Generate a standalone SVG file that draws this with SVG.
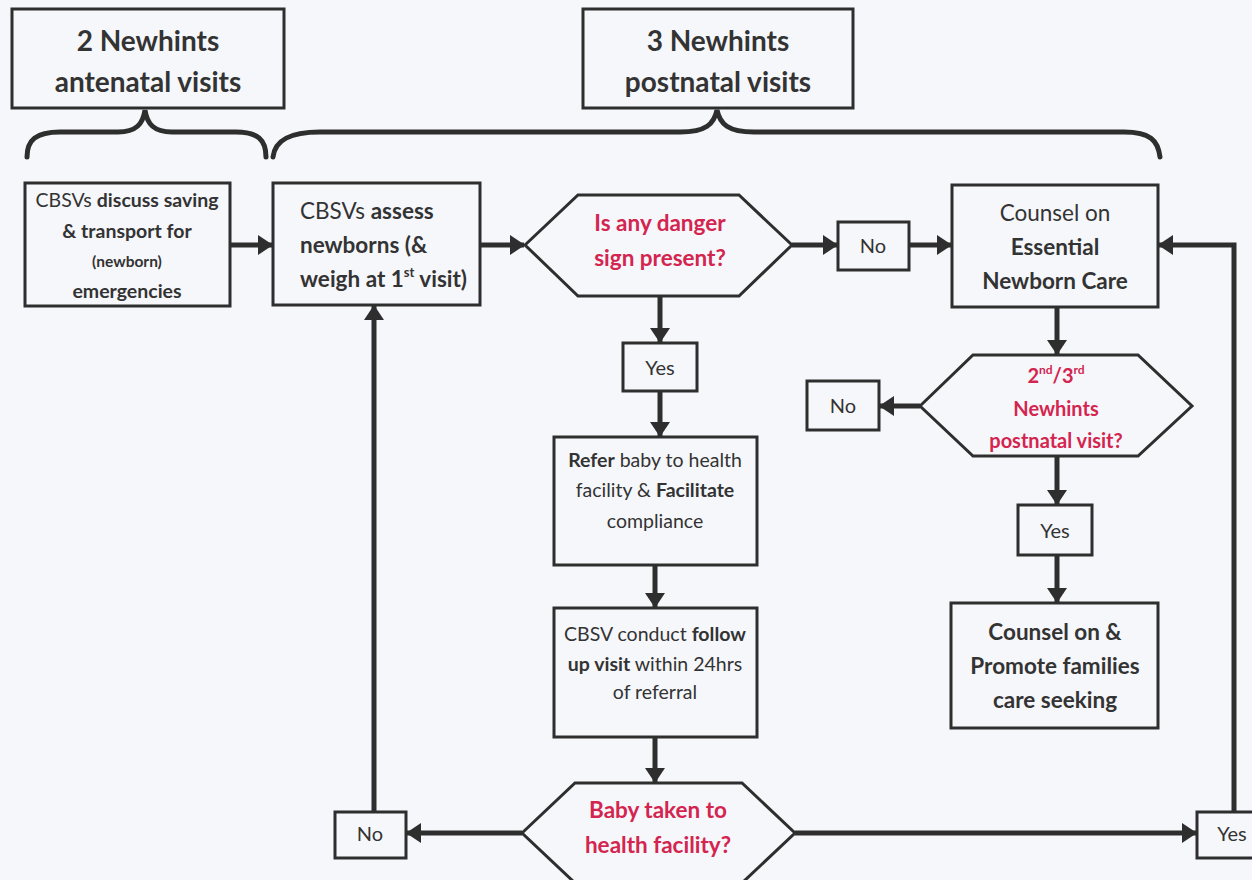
<svg xmlns="http://www.w3.org/2000/svg" width="1252" height="880" viewBox="0 0 1252 880">
<defs>
<style>
.bx{fill:none;stroke:#2e2e2e;stroke-width:3}
.cn{fill:none;stroke:#2e2e2e;stroke-width:5}
.br{fill:none;stroke:#2e2e2e;stroke-width:5;stroke-linecap:round}
text{font-family:Lato,"Open Sans","Liberation Sans",sans-serif;fill:#333;text-anchor:middle}
.b{font-weight:bold}
.r{fill:#d3254f;font-weight:bold}
.h{font-size:28px;font-weight:bold}
.m{font-size:22.5px}
.s{font-size:19.5px}
.l{font-size:20px}
</style>
<marker id="ah" viewBox="0 0 15 20" refX="14" refY="10" markerWidth="15" markerHeight="20" markerUnits="userSpaceOnUse" orient="auto">
<path d="M0,0 L15,10 L0,20 z" fill="#2e2e2e"/>
</marker>
</defs>
<rect width="1252" height="880" fill="#f6f7fb"/>

<g id="connectors">
<path class="br" d="M27,157 C27,140 36,132 60,132 L118,132 C136,132 143,124 145,110 C147,124 154,132 172,132 L236,132 C258,132 266,140 266,157"/>
<path class="br" d="M273,157 C275,140 290,132 320,132 L680,132 C706,132 714,124 717,110 C720,124 728,132 754,132 L1124,132 C1150,132 1158,140 1160,157"/>
<line class="cn" x1="230" y1="245" x2="272" y2="245" marker-end="url(#ah)"/>
<line class="cn" x1="480" y1="245" x2="524" y2="245" marker-end="url(#ah)"/>
<line class="cn" x1="792" y1="245" x2="837" y2="245" marker-end="url(#ah)"/>
<line class="cn" x1="909" y1="245" x2="951" y2="245" marker-end="url(#ah)"/>
<line class="cn" x1="660" y1="296" x2="660" y2="342" marker-end="url(#ah)"/>
<line class="cn" x1="660" y1="391" x2="660" y2="436" marker-end="url(#ah)"/>
<line class="cn" x1="655" y1="565" x2="655" y2="607" marker-end="url(#ah)"/>
<line class="cn" x1="655" y1="737" x2="655" y2="782" marker-end="url(#ah)"/>
<line class="cn" x1="522" y1="833" x2="407" y2="833" marker-end="url(#ah)"/>
<line class="cn" x1="374" y1="812" x2="374" y2="306" marker-end="url(#ah)"/>
<line class="cn" x1="795" y1="833" x2="1196" y2="833" marker-end="url(#ah)"/>
<polyline class="cn" points="1234,812 1234,245 1159,245" marker-end="url(#ah)"/>
<line class="cn" x1="1057" y1="307" x2="1057" y2="354" marker-end="url(#ah)"/>
<line class="cn" x1="920" y1="406" x2="880" y2="406" marker-end="url(#ah)"/>
<line class="cn" x1="1057" y1="456" x2="1057" y2="504" marker-end="url(#ah)"/>
<line class="cn" x1="1057" y1="555" x2="1057" y2="602" marker-end="url(#ah)"/>
</g>

<g id="antenatal">
<rect class="bx" x="12" y="9" width="272" height="99"/>
<text class="h" x="148" y="51">2 Newhints</text>
<text class="h" x="148" y="92">antenatal visits</text>
</g>

<g id="postnatal">
<rect class="bx" x="583" y="9" width="270" height="99"/>
<text class="h" x="718" y="51">3 Newhints</text>
<text class="h" x="718" y="92">postnatal visits</text>
</g>

<g id="discuss">
<rect class="bx" x="25" y="183" width="205" height="123"/>
<text class="s" x="127" y="207">CBSVs <tspan class="b">discuss saving</tspan></text>
<text class="s b" x="127" y="238">&amp; transport for</text>
<text class="b" style="font-size:15.5px" x="127" y="267">(newborn)</text>
<text class="s b" x="127" y="298">emergencies</text>
</g>

<g id="assess">
<rect class="bx" x="273" y="183" width="207" height="122"/>
<text class="m" x="300" y="219" style="text-anchor:start">CBSVs <tspan class="b">assess</tspan></text>
<text class="m b" x="300" y="253" style="text-anchor:start">newborns (&amp;</text>
<text class="m b" x="300" y="287" style="text-anchor:start">weigh at 1<tspan font-size="13" dy="-10">st</tspan><tspan dy="10"> visit)</tspan></text>
</g>

<g id="danger">
<polygon class="bx" points="525,245 578,195 739,195 792,245 739,296 578,296"/>
<text class="m r" x="660" y="231">Is any danger</text>
<text class="m r" x="660" y="266">sign present?</text>
</g>

<g id="no1">
<rect class="bx" x="838" y="222" width="71" height="48"/>
<text class="l" x="873" y="253">No</text>
</g>

<g id="counsel-enc">
<rect class="bx" x="952" y="185" width="206" height="122"/>
<text class="m" x="1055" y="221">Counsel on</text>
<text class="m b" x="1055" y="255">Essential</text>
<text class="m b" x="1055" y="289">Newborn Care</text>
</g>

<g id="yes1">
<rect class="bx" x="623" y="343" width="74" height="48"/>
<text class="l" x="660" y="375">Yes</text>
</g>

<g id="refer">
<rect class="bx" x="554" y="437" width="203" height="128"/>
<text class="s" x="655" y="467"><tspan class="b">Refer</tspan> baby to health</text>
<text class="s" x="655" y="497">facility &amp; <tspan class="b">Facilitate</tspan></text>
<text class="s" x="655" y="528">compliance</text>
</g>

<g id="followup">
<rect class="bx" x="554" y="608" width="203" height="129"/>
<text class="s" x="655" y="641">CBSV conduct <tspan class="b">follow</tspan></text>
<text class="s" x="655" y="671"><tspan class="b">up visit</tspan> within 24hrs</text>
<text class="s" x="655" y="699">of referral</text>
</g>

<g id="taken">
<polygon class="bx" points="522,833 575,783 742,783 795,833 742,883 575,883"/>
<text class="m r" x="658" y="818">Baby taken to</text>
<text class="m r" x="658" y="853">health facility?</text>
</g>

<g id="no3">
<rect class="bx" x="335" y="812" width="71" height="46"/>
<text class="l" x="370" y="841">No</text>
</g>

<g id="yes3">
<rect class="bx" x="1197" y="812" width="70" height="46"/>
<text class="l" x="1232" y="841">Yes</text>
</g>

<g id="visit23">
<polygon class="bx" points="920,406 973,355 1138,355 1192,406 1138,456 973,456"/>
<text class="l r" x="1056" y="383">2<tspan font-size="12" dy="-9">nd</tspan><tspan dy="9">/3</tspan><tspan font-size="12" dy="-9">rd</tspan></text>
<text class="l r" x="1056" y="416">Newhints</text>
<text class="l r" x="1056" y="448">postnatal visit?</text>
</g>

<g id="no2">
<rect class="bx" x="807" y="381" width="72" height="49"/>
<text class="l" x="843" y="413">No</text>
</g>

<g id="yes2">
<rect class="bx" x="1018" y="505" width="74" height="50"/>
<text class="l" x="1055" y="538">Yes</text>
</g>

<g id="promote">
<rect class="bx" x="951" y="603" width="207" height="125"/>
<text class="m b" x="1055" y="640">Counsel on &amp;</text>
<text class="m b" x="1055" y="674">Promote families</text>
<text class="m b" x="1055" y="708">care seeking</text>
</g>
</svg>
